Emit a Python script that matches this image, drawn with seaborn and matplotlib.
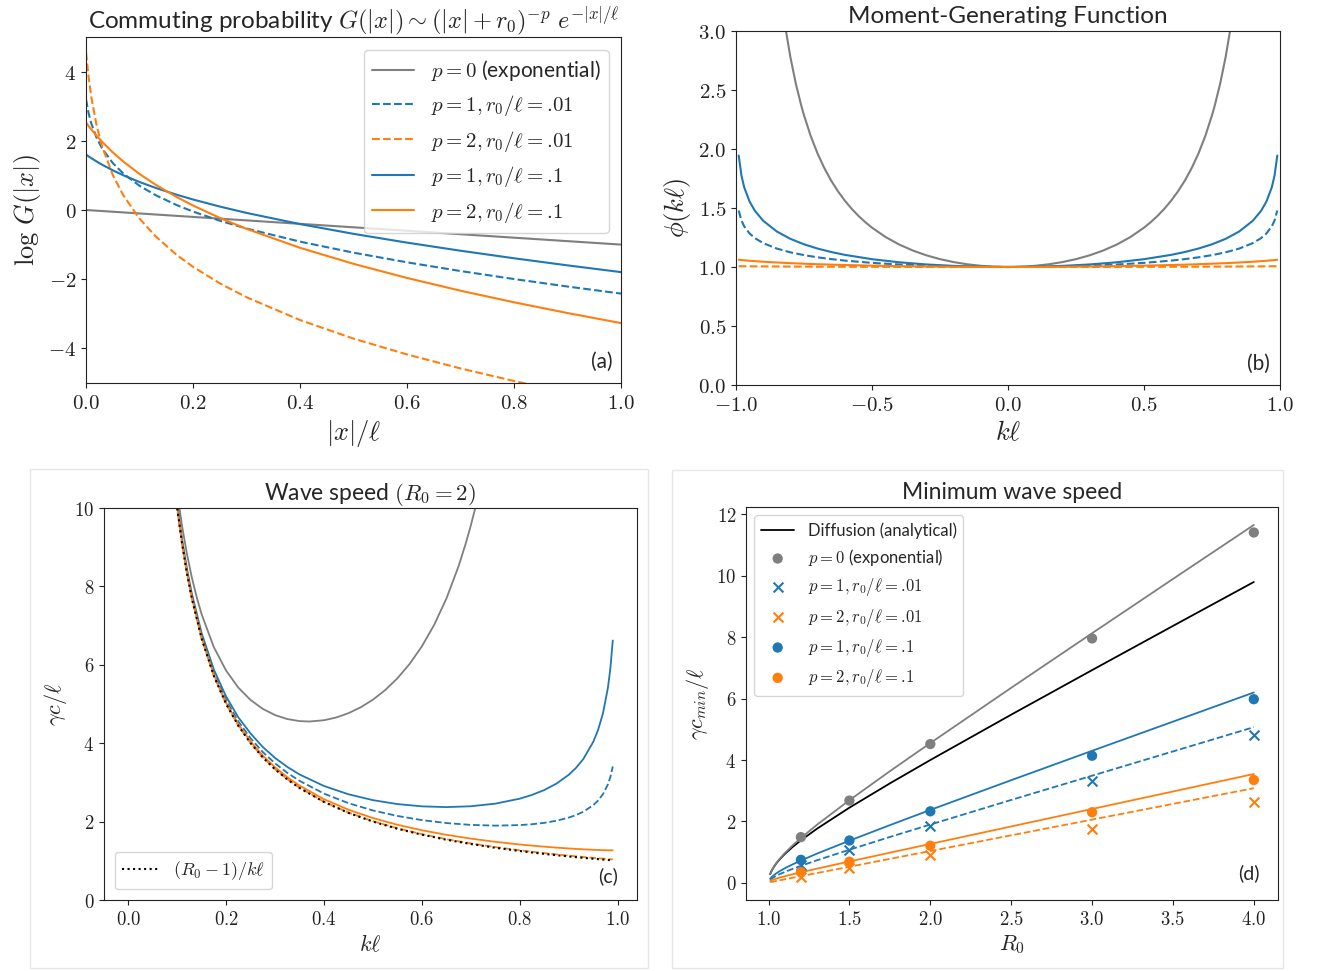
import matplotlib.pyplot as plt
import seaborn as sns
from matplotlib.patches import Rectangle
from matplotlib.ticker import FixedLocator, FuncFormatter

GRAY = "#7f7f7f"
BLUE = "#1f77b4"
ORANGE = "#ff7f0e"

# (a) commuting probability, log G against |x|/l
x_p0 = [0.0, 1.0]
logG_p0 = [0.0, -1.0]
x_dist = [0.0, 0.005, 0.01, 0.02, 0.03, 0.05, 0.07, 0.1, 0.13, 0.17, 0.2,
          0.25, 0.3, 0.4, 0.5, 0.6, 0.7, 0.8, 0.9, 1.0]
logG_p1_r01 = [3.199, 2.789, 2.496, 2.081, 1.783, 1.357, 1.050, 0.701, 0.430, 0.139, -0.045,
               -0.309, -0.535, -0.914, -1.233, -1.512, -1.764, -1.995, -2.212, -2.416]
logG_p2_r01 = [4.55, 3.831, 3.251, 2.430, 1.844, 1.013, 0.418, -0.249, -0.761, -1.304, -1.642,
               -2.119, -2.521, -3.180, -3.717, -4.175, -4.579, -4.942, -5.275, -5.584]
logG_p1_r1 = [1.603, 1.549, 1.497, 1.400, 1.310, 1.147, 1.002, 0.809, 0.640, 0.439, 0.304,
              0.100, -0.084, -0.407, -0.689, -0.943, -1.177, -1.395, -1.600, -1.795]
logG_p2_r1 = [2.528, 2.425, 2.327, 2.143, 1.973, 1.667, 1.396, 1.041, 0.732, 0.371, 0.130,
              -0.228, -0.545, -1.092, -1.556, -1.964, -2.332, -2.667, -2.978, -3.268]

# (b) moment-generating function
k_p0 = [-0.82, -0.8, -0.78, -0.76, -0.75, -0.725, -0.7, -0.675, -0.65, -0.625, -0.6, -0.575,
        -0.55, -0.525, -0.5, -0.45, -0.4, -0.35, -0.3, -0.25, -0.2, -0.15, -0.1, -0.05,
        0.0, 0.05, 0.1, 0.15, 0.2, 0.25, 0.3, 0.35, 0.4, 0.45, 0.5, 0.525, 0.55, 0.575,
        0.6, 0.625, 0.65, 0.675, 0.7, 0.725, 0.75, 0.76, 0.78, 0.8, 0.82]
phi_p0 = [3.0525, 2.7778, 2.5536, 2.3674, 2.2857, 2.1080, 1.9608, 1.8370, 1.7316, 1.6410,
          1.5625, 1.4939, 1.4337, 1.3805, 1.3333, 1.2539, 1.1905, 1.1396, 1.0989, 1.0667,
          1.0417, 1.0230, 1.0101, 1.0025, 1.0, 1.0025, 1.0101, 1.0230, 1.0417, 1.0667,
          1.0989, 1.1396, 1.1905, 1.2539, 1.3333, 1.3805, 1.4337, 1.4939, 1.5625, 1.6410,
          1.7316, 1.8370, 1.9608, 2.1080, 2.2857, 2.3674, 2.5536, 2.7778, 3.0525]
k_mgf = [-0.99, -0.98, -0.97, -0.95, -0.93, -0.9, -0.85, -0.8, -0.75, -0.7, -0.65, -0.6, -0.5,
         -0.4, -0.3, -0.2, -0.1, 0.0, 0.1, 0.2, 0.3, 0.4, 0.5, 0.6, 0.65, 0.7, 0.75, 0.8, 0.85,
         0.9, 0.93, 0.95, 0.97, 0.98, 0.99]
phi_p1_r01 = [1.4786, 1.3943, 1.3453, 1.2840, 1.2441, 1.2024, 1.1561, 1.1244, 1.1006, 1.0819,
              1.0668, 1.0542, 1.0349, 1.0212, 1.0114, 1.0049, 1.0012, 1.0,
              1.0012, 1.0049, 1.0114, 1.0212, 1.0349, 1.0542, 1.0668, 1.0819, 1.1006, 1.1244,
              1.1561, 1.2024, 1.2441, 1.2840, 1.3453, 1.3943, 1.4786]
phi_p2_r01 = [1.0065, 1.0063, 1.0061, 1.0057, 1.0053, 1.0049, 1.0042, 1.0036, 1.0031, 1.0026,
              1.0022, 1.0019, 1.0013, 1.0008, 1.0004, 1.0002, 1.0001, 1.0,
              1.0001, 1.0002, 1.0004, 1.0008, 1.0013, 1.0019, 1.0022, 1.0026, 1.0031, 1.0036,
              1.0042, 1.0049, 1.0053, 1.0057, 1.0061, 1.0063, 1.0065]
phi_p1_r1 = [1.9445, 1.7748, 1.6764, 1.5539, 1.4745, 1.3919, 1.3008, 1.2386, 1.1924, 1.1562,
             1.1270, 1.1030, 1.0662, 1.0400, 1.0216, 1.0094, 1.0023, 1.0,
             1.0023, 1.0094, 1.0216, 1.0400, 1.0662, 1.1030, 1.1270, 1.1562, 1.1924, 1.2386,
             1.3008, 1.3919, 1.4745, 1.5539, 1.6764, 1.7748, 1.9445]
phi_p2_r1 = [1.0618, 1.0592, 1.0569, 1.0529, 1.0494, 1.0448, 1.0382, 1.0327, 1.0279, 1.0237,
             1.0200, 1.0167, 1.0113, 1.0071, 1.0039, 1.0017, 1.0004, 1.0,
             1.0004, 1.0017, 1.0039, 1.0071, 1.0113, 1.0167, 1.0200, 1.0237, 1.0279, 1.0327,
             1.0382, 1.0448, 1.0494, 1.0529, 1.0569, 1.0592, 1.0618]

# (c) wave speed for R0 = 2
k_speed_p0 = [0.09, 0.1, 0.11, 0.12, 0.13, 0.14, 0.15, 0.175, 0.2, 0.225, 0.25, 0.275, 0.3,
              0.325, 0.35, 0.37, 0.4, 0.425, 0.45, 0.475, 0.5, 0.525, 0.55, 0.575, 0.6, 0.625,
              0.65, 0.675, 0.69, 0.7, 0.71, 0.72]
c_p0 = [11.475, 10.406, 9.539, 8.824, 8.226, 7.720, 7.287, 6.448, 5.851, 5.418, 5.102, 4.875,
        4.717, 4.616, 4.564, 4.553, 4.586, 4.656, 4.766, 4.916, 5.111, 5.355, 5.656, 6.024,
        6.471, 7.017, 7.688, 8.517, 9.111, 9.556, 10.046, 10.587]
k_speed = [0.09, 0.1, 0.11, 0.12, 0.13, 0.15, 0.175, 0.2, 0.225, 0.25, 0.275, 0.3, 0.325, 0.35,
           0.4, 0.45, 0.5, 0.55, 0.6, 0.65, 0.7, 0.75, 0.8, 0.825, 0.85, 0.875, 0.9, 0.915,
           0.93, 0.95, 0.96, 0.97, 0.98, 0.985, 0.99]
c_p1_r01 = [11.154, 10.048, 9.144, 8.391, 7.755, 6.739, 5.799, 5.098, 4.555, 4.124, 3.774, 3.486,
            3.244, 3.040, 2.714, 2.470, 2.284, 2.144, 2.038, 1.963, 1.916, 1.897, 1.911, 1.933,
            1.968, 2.022, 2.102, 2.167, 2.253, 2.418, 2.537, 2.701, 2.947, 3.133, 3.407]
c_p2_r01 = [11.113, 10.002, 9.092, 8.336, 7.693, 6.670, 5.718, 5.004, 4.449, 4.005, 3.642, 3.339,
            3.083, 2.864, 2.508, 2.231, 2.010, 1.830, 1.679, 1.552, 1.444, 1.350, 1.268, 1.231,
            1.196, 1.163, 1.133, 1.115, 1.098, 1.076, 1.066, 1.056, 1.046, 1.041, 1.036]
c_p1_r1 = [11.194, 10.092, 9.193, 8.444, 7.813, 6.806, 5.877, 5.189, 4.659, 4.247, 3.902, 3.624,
           3.395, 3.203, 2.908, 2.697, 2.547, 2.447, 2.389, 2.370, 2.391, 2.458, 2.585, 2.681,
           2.805, 2.969, 3.194, 3.372, 3.600, 4.031, 4.340, 4.764, 5.408, 5.897, 6.620]
c_p2_r1 = [11.126, 10.016, 9.109, 8.353, 7.714, 6.691, 5.743, 5.034, 4.483, 4.043, 3.684, 3.385,
           3.134, 2.919, 2.571, 2.303, 2.091, 1.919, 1.779, 1.663, 1.566, 1.484, 1.416, 1.387,
           1.360, 1.336, 1.315, 1.303, 1.293, 1.281, 1.277, 1.272, 1.269, 1.268, 1.268]
c_diffusion = [11.111, 10.0, 9.091, 8.333, 7.692, 6.667, 5.714, 5.0, 4.444, 4.0, 3.636, 3.333,
               3.077, 2.857, 2.5, 2.222, 2.0, 1.818, 1.667, 1.538, 1.429, 1.333, 1.25, 1.212,
               1.176, 1.143, 1.111, 1.093, 1.075, 1.053, 1.042, 1.031, 1.020, 1.015, 1.010]

# (d) minimum wave speed against R0
r0_curve = [1.01, 1.02, 1.04, 1.05, 1.07, 1.1, 1.15, 1.2, 1.3, 1.5, 1.75, 2.0, 2.5, 3.0, 3.5, 4.0]
cmin_diffusion = [0.284, 0.404, 0.577, 0.648, 0.774, 0.938, 1.175, 1.386, 1.766, 2.449, 3.240,
                  4.0, 5.477, 6.928, 8.367, 9.798]
cmin_p0 = [0.284, 0.407, 0.585, 0.661, 0.793, 0.967, 1.226, 1.461, 1.895, 2.692, 3.636, 4.553,
           6.352, 8.129, 9.896, 11.656]
cmin_p1_r1 = [0.137, 0.194, 0.28, 0.319, 0.385, 0.473, 0.606, 0.727, 0.954, 1.374, 1.880, 2.375,
              3.344, 4.30, 5.25, 6.20]
cmin_p1_r01 = [0.0995, 0.143, 0.209, 0.237, 0.288, 0.355, 0.459, 0.555, 0.738, 1.079, 1.494,
               1.899, 2.70, 3.49, 4.28, 5.07]
cmin_p2_r1 = [0.0595, 0.0855, 0.125, 0.142, 0.173, 0.216, 0.282, 0.344, 0.464, 0.697, 0.983,
              1.268, 1.837, 2.406, 2.976, 3.545]
cmin_p2_r01 = [0.0234, 0.0337, 0.0541, 0.0644, 0.0848, 0.1155, 0.1667, 0.2179, 0.3202, 0.5249,
               0.7807, 1.0365, 1.5482, 2.0598, 2.5715, 3.0832]
r0_points = [1.2, 1.5, 2.0, 3.0, 4.0]
sim_p0 = [1.49, 2.68, 4.52, 7.96, 11.41]
sim_p1_r01 = [0.58, 1.07, 1.84, 3.33, 4.81]
sim_p2_r01 = [0.19, 0.48, 0.91, 1.76, 2.62]
sim_p1_r1 = [0.75, 1.38, 2.33, 4.14, 5.98]
sim_p2_r1 = [0.35, 0.69, 1.21, 2.30, 3.35]

LABEL_P0 = r"$p=0$ (exponential)"
LABEL_P1_R01 = r"$p=1, r_0/\ell=.\!01$"
LABEL_P2_R01 = r"$p=2, r_0/\ell=.\!01$"
LABEL_P1_R1 = r"$p=1, r_0/\ell=.\!1$"
LABEL_P2_R1 = r"$p=2, r_0/\ell=.\!1$"

sns.set_style("ticks")
plt.rcParams["font.family"] = ["Lato", "DejaVu Sans"]
plt.rcParams["mathtext.fontset"] = "cm"
plt.rcParams["axes.edgecolor"] = "#222222"
plt.rcParams["xtick.color"] = "#222222"
plt.rcParams["ytick.color"] = "#222222"


def math_ticks(ax, xticks, yticks, xfmt, yfmt, size):
    ax.xaxis.set_major_locator(FixedLocator(xticks))
    ax.yaxis.set_major_locator(FixedLocator(yticks))
    ax.xaxis.set_major_formatter(FuncFormatter(lambda v, pos: "$" + format(v, xfmt) + "$"))
    ax.yaxis.set_major_formatter(FuncFormatter(lambda v, pos: "$" + format(v, yfmt) + "$"))
    ax.tick_params(labelsize=size)


def line(ax, x, y, color, style="-", label=None, lw=1.5):
    sns.lineplot(x=x, y=y, ax=ax, color=color, linestyle=style, linewidth=lw,
                 label=label, sort=False, estimator=None)


W, H = 1321, 971
fig = plt.figure(figsize=(W / 100, H / 100), dpi=100)


def box(left, top, right, bottom):
    return [left / W, 1 - bottom / H, (right - left) / W, (bottom - top) / H]


# light frames round the two lower panels
for l, t, r, b in [(30, 469, 648, 968), (672, 470, 1283, 968)]:
    fig.patches.append(Rectangle((l / W, 1 - b / H), (r - l) / W, (b - t) / H,
                                 transform=fig.transFigure, fill=False,
                                 edgecolor="#e6e6e6", linewidth=1.0))

# ---- (a)
ax_a = fig.add_axes(box(86, 37, 621, 383))
line(ax_a, x_p0, logG_p0, GRAY, "-", LABEL_P0)
line(ax_a, x_dist, logG_p1_r01, BLUE, "--", LABEL_P1_R01)
line(ax_a, x_dist, logG_p2_r01, ORANGE, "--", LABEL_P2_R01)
line(ax_a, x_dist, logG_p1_r1, BLUE, "-", LABEL_P1_R1)
line(ax_a, x_dist, logG_p2_r1, ORANGE, "-", LABEL_P2_R1)
ax_a.set_xlim(0, 1)
ax_a.set_ylim(-5, 5)
math_ticks(ax_a, [0, 0.2, 0.4, 0.6, 0.8, 1.0], [-4, -2, 0, 2, 4], ".1f", ".0f", 15)
ax_a.set_xlabel(r"$|x|/\ell$", fontsize=19)
ax_a.set_ylabel(r"$\log\, G(|x|)$", fontsize=19)
ax_a.set_title(r"Commuting probability $G(|x|) \sim (|x|+r_0)^{-p}\ e^{-|x|/\ell}$",
               fontsize=17.5)
ax_a.legend(loc="upper right", fontsize=15, borderaxespad=0.6)
ax_a.text(0.985, 0.06, "(a)", transform=ax_a.transAxes, ha="right", va="center", fontsize=15)

# ---- (b)
ax_b = fig.add_axes(box(736, 31, 1280, 385))
line(ax_b, k_p0, phi_p0, GRAY)
line(ax_b, k_mgf, phi_p1_r1, BLUE)
line(ax_b, k_mgf, phi_p1_r01, BLUE, "--")
line(ax_b, k_mgf, phi_p2_r1, ORANGE)
line(ax_b, k_mgf, phi_p2_r01, ORANGE, "--")
ax_b.set_xlim(-1, 1)
ax_b.set_ylim(0, 3)
math_ticks(ax_b, [-1, -0.5, 0, 0.5, 1], [0, 0.5, 1, 1.5, 2, 2.5, 3], ".1f", ".1f", 15)
ax_b.set_xlabel(r"$k\ell$", fontsize=19)
ax_b.set_ylabel(r"$\phi(k\ell)$", fontsize=19)
ax_b.set_title("Moment-Generating Function", fontsize=17.5)
ax_b.text(0.982, 0.06, "(b)", transform=ax_b.transAxes, ha="right", va="center", fontsize=15)

# ---- (c)
ax_c = fig.add_axes(box(104, 508, 637, 900))
line(ax_c, k_speed_p0, c_p0, GRAY, lw=1.3)
line(ax_c, k_speed, c_p1_r01, BLUE, "--", lw=1.3)
line(ax_c, k_speed, c_p2_r01, ORANGE, "--", lw=1.3)
line(ax_c, k_speed, c_p1_r1, BLUE, lw=1.3)
line(ax_c, k_speed, c_p2_r1, ORANGE, lw=1.3)
line(ax_c, k_speed, c_diffusion, "black", ":", r"$(R_0-1)/k\ell$", lw=1.5)
ax_c.set_xlim(-0.0495, 1.0395)
ax_c.set_ylim(0, 10)
math_ticks(ax_c, [0, 0.2, 0.4, 0.6, 0.8, 1.0], [0, 2, 4, 6, 8, 10], ".1f", ".0f", 13.5)
ax_c.set_xlabel(r"$k\ell$", fontsize=16)
ax_c.set_ylabel(r"$\gamma c/\ell$", fontsize=16)
ax_c.set_title(r"Wave speed $(R_0=2)$", fontsize=16.5)
ax_c.legend(loc="lower left", fontsize=13, borderaxespad=0.6)
ax_c.text(0.964, 0.06, "(c)", transform=ax_c.transAxes, ha="right", va="center", fontsize=14)

# ---- (d)
ax_d = fig.add_axes(box(746, 507, 1278, 900))
line(ax_d, r0_curve, cmin_diffusion, "black", "-", "Diffusion (analytical)", lw=1.3)
line(ax_d, r0_curve, cmin_p0, GRAY, lw=1.3)
line(ax_d, r0_curve, cmin_p1_r1, BLUE, lw=1.3)
line(ax_d, r0_curve, cmin_p1_r01, BLUE, "--", lw=1.3)
line(ax_d, r0_curve, cmin_p2_r1, ORANGE, lw=1.3)
line(ax_d, r0_curve, cmin_p2_r01, ORANGE, "--", lw=1.3)
sns.scatterplot(x=r0_points, y=sim_p0, ax=ax_d, color=GRAY, marker="o", s=55,
                edgecolor="none", label=LABEL_P0, zorder=3)
sns.scatterplot(x=r0_points, y=sim_p1_r01, ax=ax_d, color=BLUE, marker="x", s=50,
                linewidth=1.5, label=LABEL_P1_R01, zorder=3)
sns.scatterplot(x=r0_points, y=sim_p2_r01, ax=ax_d, color=ORANGE, marker="x", s=50,
                linewidth=1.5, label=LABEL_P2_R01, zorder=3)
sns.scatterplot(x=r0_points, y=sim_p1_r1, ax=ax_d, color=BLUE, marker="o", s=55,
                edgecolor="none", label=LABEL_P1_R1, zorder=3)
sns.scatterplot(x=r0_points, y=sim_p2_r1, ax=ax_d, color=ORANGE, marker="o", s=55,
                edgecolor="none", label=LABEL_P2_R1, zorder=3)
ax_d.set_xlim(0.8605, 4.1495)
ax_d.set_ylim(-0.558, 12.24)
math_ticks(ax_d, [1.0, 1.5, 2.0, 2.5, 3.0, 3.5, 4.0], [0, 2, 4, 6, 8, 10, 12], ".1f", ".0f", 13.5)
ax_d.set_xlabel(r"$R_0$", fontsize=16)
ax_d.set_ylabel(r"$\gamma c_{min}/\ell$", fontsize=16)
ax_d.set_title("Minimum wave speed", fontsize=16.5)
ax_d.legend(loc="upper left", fontsize=12, borderaxespad=0.5)
ax_d.text(0.966, 0.069, "(d)", transform=ax_d.transAxes, ha="right", va="center", fontsize=14)

fig.savefig("out.png", dpi=100)
